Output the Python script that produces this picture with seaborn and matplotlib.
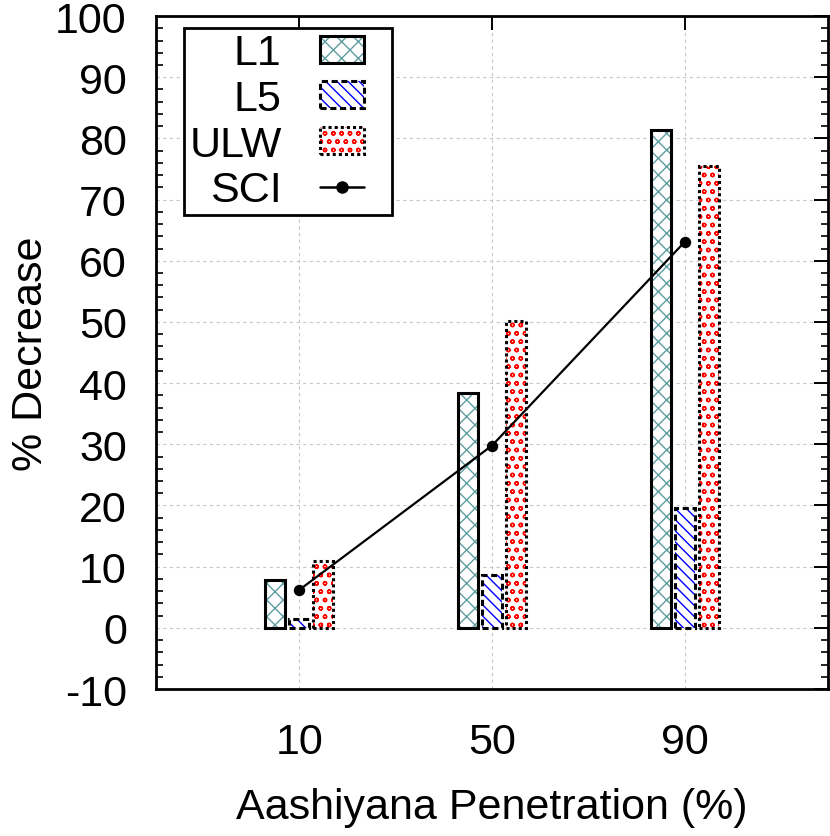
import matplotlib
matplotlib.use("Agg")
import matplotlib.pyplot as plt
from matplotlib.patches import Patch, Rectangle
from matplotlib.lines import Line2D
from matplotlib.ticker import MultipleLocator
import pandas as pd
import seaborn as sns

# Data
penetration = ["10", "50", "90"]
series = ["L1", "L5", "ULW"]
l1 = [7.8, 38.4, 81.3]
l5 = [1.5, 8.6, 19.6]
ulw = [10.9, 50.2, 75.5]
sci = [6.2, 29.8, 63.1]

df = pd.DataFrame({
    "pen": penetration * 3,
    "series": ["L1"] * 3 + ["L5"] * 3 + ["ULW"] * 3,
    "val": l1 + l5 + ulw,
})

sns.set_theme(style="white")
plt.rcParams["font.family"] = ["Liberation Sans", "DejaVu Sans"]
plt.rcParams["hatch.linewidth"] = 1.0
plt.rcParams["axes.unicode_minus"] = False
for k in ["text.color", "axes.labelcolor", "xtick.color", "ytick.color"]:
    plt.rcParams[k] = "black"

FS = 31

# hatch colour, hatch pattern, outline style
styles = {
    "L1": ("#5f9ea0", "xx", "-"),
    "L5": ("#0000ff", "\\\\\\", (0, (2, 1.2))),
    "ULW": ("#ff0000", "oo", (0, (1, 1))),
}

fig = plt.figure(figsize=(8.3, 8.37), dpi=100)
ax = fig.add_axes([0.188, 0.1756, 0.8096, 0.804])

sns.barplot(data=df, x="pen", y="val", hue="series", order=penetration,
            hue_order=series, width=0.375, gap=0.17, ax=ax, legend=False,
            errorbar=None)

# patches come out grouped by hue
bars = ax.patches[:9]
for i, p in enumerate(bars):
    name = series[i // 3]
    hc, hatch, ls = styles[name]
    p.set_facecolor("white")
    p.set_edgecolor(hc)
    p.set_hatch(hatch)
    p.set_linewidth(0)
    ax.add_patch(Rectangle(p.get_xy(), p.get_width(), p.get_height(),
                           fill=False, edgecolor="black", linewidth=2.2,
                           linestyle=ls, zorder=3))

sns.pointplot(x=penetration, y=sci, order=penetration, color="black",
              markers="o", markersize=7, linewidth=1.6, ax=ax, zorder=4)

ax.set_xlim(-0.743, 2.743)
ax.set_ylim(-10, 100)
ax.yaxis.set_major_locator(MultipleLocator(10))
ax.yaxis.set_minor_locator(MultipleLocator(2))
ax.tick_params(axis="both", which="major", direction="in", length=10, width=1.4,
               labelsize=FS, top=True, right=True, pad=21)
ax.tick_params(axis="x", which="major", pad=24)
ax.tick_params(axis="y", which="minor", direction="in", length=5, width=1.2,
               right=True, left=True)
ax.grid(True, which="major", color="#c8c8c8", linestyle=(0, (3, 3)),
        linewidth=0.8)
ax.set_axisbelow(True)
for s in ax.spines.values():
    s.set_color("black")
    s.set_linewidth(2.0)

ax.set_xlabel("Aashiyana Penetration (%)", fontsize=FS, labelpad=18)
ax.set_ylabel("% Decrease", fontsize=FS, labelpad=3)

# legend
handles = []
for name in series:
    hc, hatch, ls = styles[name]
    handles.append((Patch(facecolor="white", edgecolor=hc, hatch=hatch, linewidth=0),
                    Patch(fill=False, edgecolor="black", linewidth=2.2, linestyle=ls)))
handles.append(Line2D([], [], color="black", marker="o", markersize=8, linewidth=1.8))
leg = ax.legend(handles, series + ["SCI"], loc="upper left", mode="expand",
                bbox_to_anchor=(0.0417, 0.982, 0.3095, 0.0), borderaxespad=0,
                fontsize=FS, markerfirst=False, handlelength=1.02,
                handleheight=0.58, labelspacing=0.13, fancybox=False,
                framealpha=1, edgecolor="black", borderpad=0.12,
                handletextpad=0.89)
leg.get_frame().set_linewidth(2.0)
for t in leg.get_texts():
    t.set_ha("right")
leg.set_zorder(6)

fig.savefig("out.png", dpi=100)
